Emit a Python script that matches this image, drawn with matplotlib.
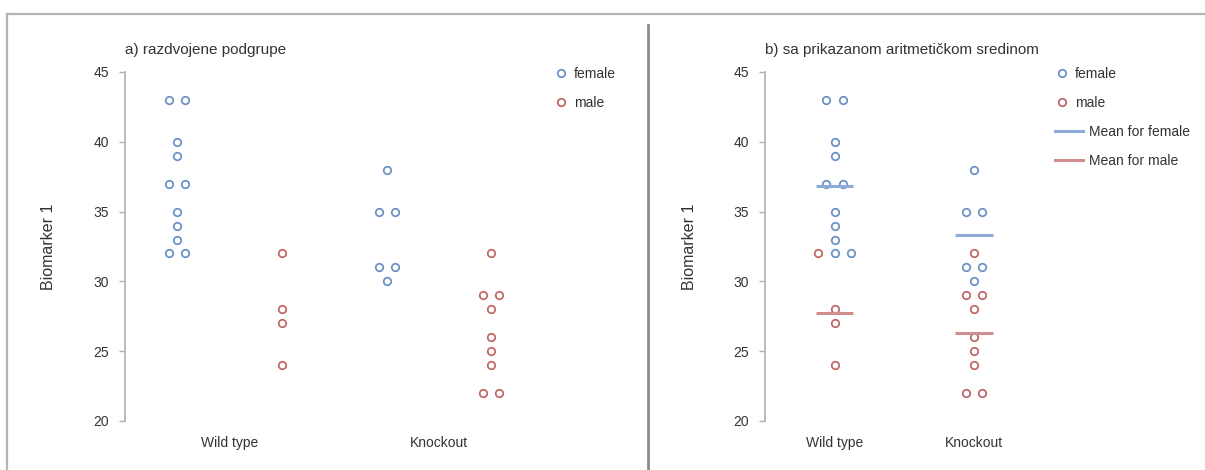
import numpy as np
import matplotlib
matplotlib.use("Agg")
import matplotlib.pyplot as plt
from matplotlib.lines import Line2D

plt.rcParams['font.family'] = ['Liberation Sans', 'DejaVu Sans']

# ---- data ----
categories = ["Wild type", "Knockout"]
wt_female = [43, 43, 40, 39, 37, 37, 35, 34, 33, 32, 32]
wt_male = [32, 28, 27, 24]
ko_female = [38, 35, 35, 31, 31, 30]
ko_male = [32, 29, 29, 28, 26, 25, 24, 22, 22]
yticks = [20, 25, 30, 35, 40, 45]
title_a = "a) razdvojene podgrupe"
title_b = "b) sa prikazanom aritmetičkom sredinom"
ylabel = "Biomarker 1"

BLUE = "#6890c8"
RED = "#c06464"
BLUE_L = "#8eaad6"
RED_L = "#d08e8e"
TXT = "#333333"

W, H = 1205, 470
fig = plt.figure(figsize=(W / 100, H / 100), dpi=100)

def fx(px):
    return px / W

def fy(py):
    return 1 - py / H

# frame and separator
fig.add_artist(Line2D([fx(7.5), fx(1205)], [fy(14), fy(14)], color="#b4b4b4", lw=1.6,
                      transform=fig.transFigure))
fig.add_artist(Line2D([fx(7.5), fx(7.5)], [fy(14), fy(470)], color="#b4b4b4", lw=1.6,
                      transform=fig.transFigure))
fig.add_artist(Line2D([fx(648), fx(648)], [fy(25), fy(468)], color="#8a8a8a", lw=2.0,
                      transform=fig.transFigure))


def swarm_offsets(values, step):
    """Spread tied values side by side, centred on zero."""
    vals = list(values)
    offs = []
    counts = {}
    for v in vals:
        counts[v] = counts.get(v, 0) + 1
    seen = {}
    for v in vals:
        n = counts[v]
        i = seen.get(v, 0)
        seen[v] = i + 1
        offs.append((i - (n - 1) / 2) * step)
    return np.array(offs)


def style_axes(ax, title, label_x):
    ax.set_ylim(20, 45)
    ax.set_xlim(-0.5, 1.5)
    ax.set_yticks(yticks)
    ax.set_xticks([0, 1])
    ax.set_xticklabels(categories)
    for s in ["top", "right", "bottom"]:
        ax.spines[s].set_visible(False)
    ax.spines["left"].set_color("#b0b0b0")
    ax.spines["left"].set_linewidth(1.2)
    ax.tick_params(axis="y", direction="out", length=4, width=1, color="#b0b0b0",
                   labelsize=10, labelcolor=TXT, pad=7.5)
    ax.tick_params(axis="x", length=0, labelsize=10, labelcolor=TXT, pad=10.5)
    ax.set_ylabel(ylabel, fontsize=11.5, color=TXT)
    ax.yaxis.set_label_coords(label_x, 0.5)
    ax.set_title(title, loc="left", fontsize=11, color=TXT, pad=13)


mk = dict(marker="o", linestyle="none", markersize=5.4, markeredgewidth=1.25,
          markerfacecolor="none")
leg_kw = dict(frameon=False, fontsize=10, labelcolor=TXT, borderpad=0, borderaxespad=0,
              labelspacing=1.05, bbox_transform=fig.transFigure, loc="upper left")

# ---- panel a ----
axa = fig.add_axes([fx(124.75), fy(421), fx(543.75) - fx(124.75), fy(72) - fy(421)])
step_a = 16 / 209.5
sub = 0.25
for ci, (fem, mal) in enumerate([(wt_female, wt_male), (ko_female, ko_male)]):
    axa.plot(ci - sub + swarm_offsets(fem, step_a), fem, color=BLUE, markeredgecolor=BLUE,
             label="female" if ci == 0 else None, **mk)
    axa.plot(ci + sub + swarm_offsets(mal, step_a), mal, color=RED, markeredgecolor=RED,
             label="male" if ci == 0 else None, **mk)
style_axes(axa, title_a, -0.163)
axa.legend(bbox_to_anchor=(fx(555), fy(67)), handlelength=0.9, handletextpad=0.45, **leg_kw)

# ---- panel b ----
axb = fig.add_axes([fx(764.75), fy(421), fx(1043.75) - fx(764.75), fy(72) - fy(421)])
step_b = 16.3 / 139.5
half = 0.133
for ci, (fem, mal) in enumerate([(wt_female, wt_male), (ko_female, ko_male)]):
    vals = list(mal) + list(fem)
    offs = swarm_offsets(vals, step_b)
    om = offs[:len(mal)]
    of = offs[len(mal):]
    axb.plot(ci + of, fem, color=BLUE, markeredgecolor=BLUE,
             label="female" if ci == 0 else None, **mk)
    axb.plot(ci + om, mal, color=RED, markeredgecolor=RED,
             label="male" if ci == 0 else None, **mk)
    axb.plot([ci - half, ci + half], [np.mean(fem)] * 2, color=BLUE_L, lw=2.2,
             solid_capstyle="butt")
    axb.plot([ci - half, ci + half], [np.mean(mal)] * 2, color=RED_L, lw=2.2,
             solid_capstyle="butt")
style_axes(axb, title_b, -0.244)
h1, l1 = axb.get_legend_handles_labels()
leg1 = axb.legend(h1, l1, bbox_to_anchor=(fx(1056), fy(67)), handlelength=0.9,
                  handletextpad=0.45, **leg_kw)
axb.add_artist(leg1)
mean_handles = [Line2D([], [], color=BLUE_L, lw=2.2), Line2D([], [], color=RED_L, lw=2.2)]
axb.legend(mean_handles, ["Mean for female", "Mean for male"],
           bbox_to_anchor=(fx(1055), fy(125)), handlelength=2.0, handletextpad=0.45, **leg_kw)

fig.savefig("out.png", dpi=100)
